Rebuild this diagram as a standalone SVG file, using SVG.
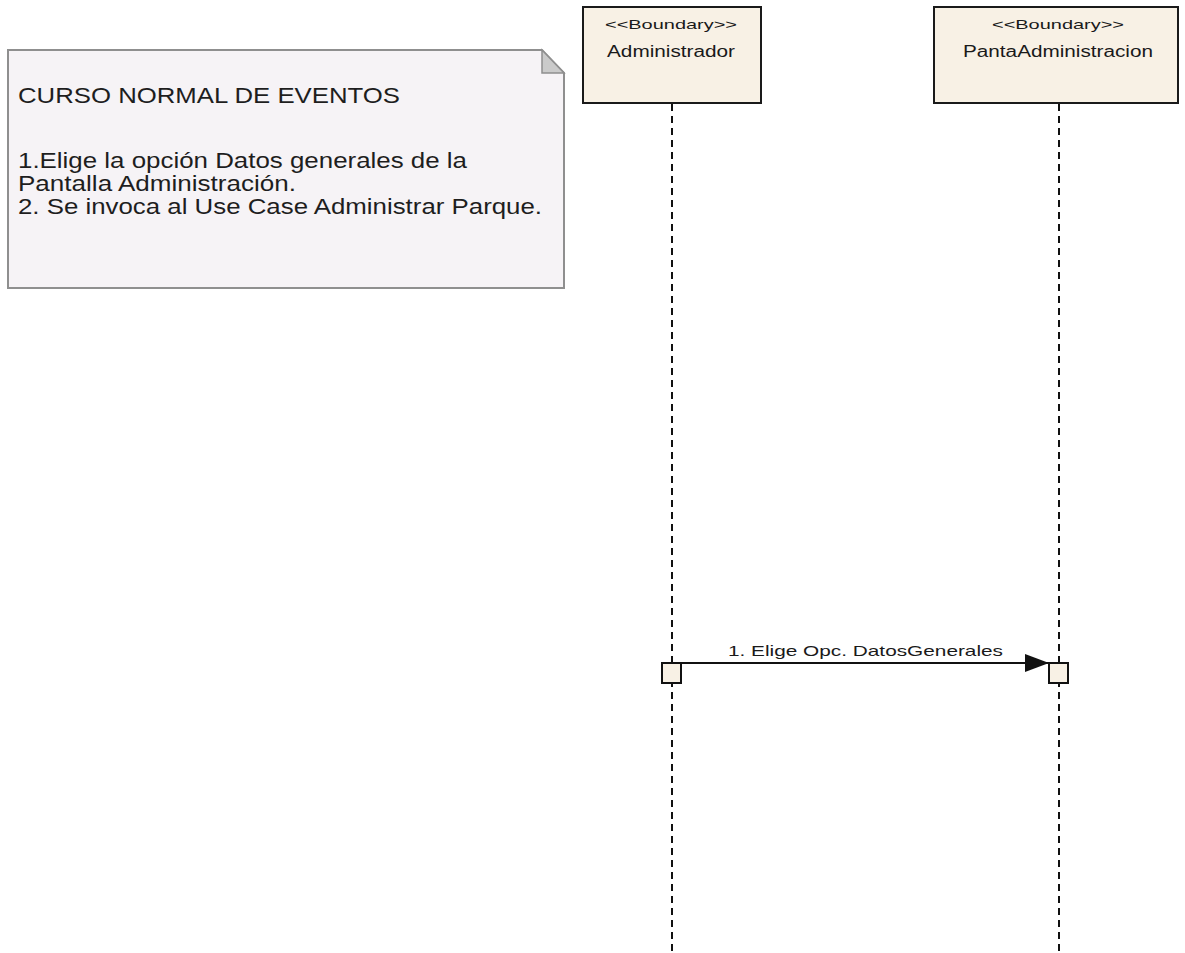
<svg xmlns="http://www.w3.org/2000/svg" width="1185" height="953" viewBox="0 0 1185 953">
  <style>
    .lifebox { fill: #f8f1e5; stroke: #1a1a1a; stroke-width: 2; }
    .stereo { font-family: "Liberation Sans", Arial, sans-serif; font-size: 13px; fill: #1a1a1a; text-anchor: middle; }
    .name { font-family: "Liberation Sans", Arial, sans-serif; font-size: 16px; fill: #1a1a1a; text-anchor: middle; }
    .lifeline { stroke: #111; stroke-width: 2; stroke-dasharray: 7 5; fill: none; }
    .act { fill: #f8f1e5; stroke: #111; stroke-width: 2; }
    .msg { stroke: #111; stroke-width: 2; fill: none; }
    .msglabel { font-family: "Liberation Sans", Arial, sans-serif; font-size: 15px; fill: #1a1a1a; }
    .note { fill: #f6f3f6; stroke: #8f8f8f; stroke-width: 2; }
    .fold { fill: #cacaca; stroke: #8f8f8f; stroke-width: 1.5; }
    .notetext { font-family: "Liberation Sans", Arial, sans-serif; font-size: 22px; fill: #1e1e1e; }
  </style>
  <defs>
    <marker id="filled-arrow" viewBox="0 0 24 18" refX="24" refY="9" markerWidth="24" markerHeight="18" markerUnits="userSpaceOnUse" orient="auto">
      <path d="M0,0 L24,9 L0,18 Z" fill="#111"/>
    </marker>
  </defs>

  <rect width="1185" height="953" fill="#ffffff"/>

  <!-- Note: normal course of events -->
  <g id="note-curso-normal">
    <path class="note" d="M8,50 L542,50 L564,73 L564,288 L8,288 Z"/>
    <path class="fold" d="M542,50 L542,73 L564,73 Z"/>
    <text class="notetext" x="18" y="103" textLength="382" lengthAdjust="spacingAndGlyphs">CURSO NORMAL DE EVENTOS</text>
    <text class="notetext" x="18" y="168" textLength="449" lengthAdjust="spacingAndGlyphs">1.Elige la opción Datos generales de la</text>
    <text class="notetext" x="18" y="191" textLength="278" lengthAdjust="spacingAndGlyphs">Pantalla Administración.</text>
    <text class="notetext" x="18" y="214" textLength="524" lengthAdjust="spacingAndGlyphs">2. Se invoca al Use Case Administrar Parque.</text>
  </g>

  <!-- Lifeline: Administrador -->
  <g id="lifeline-administrador">
    <rect class="lifebox" x="583" y="7" width="178" height="96"/>
    <text class="stereo" x="671" y="29" textLength="132" lengthAdjust="spacingAndGlyphs">&lt;&lt;Boundary&gt;&gt;</text>
    <text class="name" x="671" y="57" textLength="128" lengthAdjust="spacingAndGlyphs">Administrador</text>
    <line class="lifeline" x1="672" y1="104" x2="672" y2="953"/>
    <rect class="act" x="662" y="663" width="19" height="20"/>
  </g>

  <!-- Lifeline: PantaAdministracion -->
  <g id="lifeline-pantaadministracion">
    <rect class="lifebox" x="934" y="7" width="244" height="96"/>
    <text class="stereo" x="1058" y="29" textLength="132" lengthAdjust="spacingAndGlyphs">&lt;&lt;Boundary&gt;&gt;</text>
    <text class="name" x="1058" y="57" textLength="190" lengthAdjust="spacingAndGlyphs">PantaAdministracion</text>
    <line class="lifeline" x1="1059" y1="104" x2="1059" y2="953"/>
    <rect class="act" x="1049" y="663" width="19" height="20"/>
  </g>

  <!-- Messages -->
  <g id="connectors">
    <line class="msg" x1="681" y1="663" x2="1049" y2="663" marker-end="url(#filled-arrow)"/>
    <text class="msglabel" x="728" y="656" textLength="275" lengthAdjust="spacingAndGlyphs">1. Elige Opc. DatosGenerales</text>
  </g>
</svg>
